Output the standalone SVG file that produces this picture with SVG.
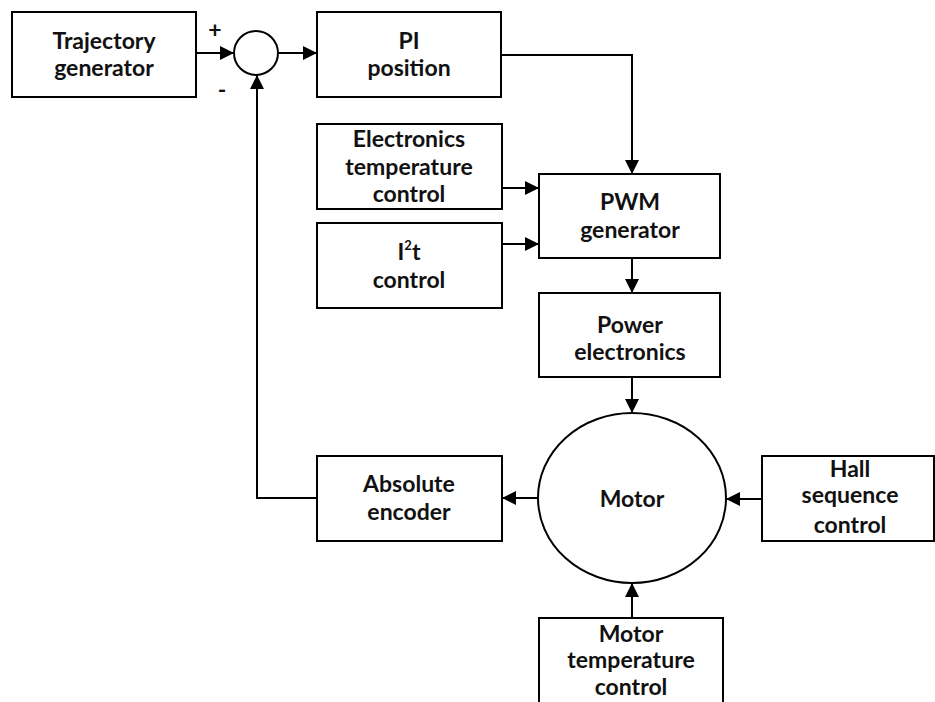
<svg xmlns="http://www.w3.org/2000/svg" width="935" height="702" viewBox="0 0 935 702">
<style>
.box{fill:#fff;stroke:#000;stroke-width:2}
.t{font-family:Lato,"Open Sans","Liberation Sans",sans-serif;font-weight:700;font-size:23px;text-anchor:middle;fill:#111}
.c{fill:none;stroke:#000;stroke-width:2}
</style>
<defs>
<marker id="ah" viewBox="0 0 14 14" refX="14" refY="7" markerWidth="14" markerHeight="14" markerUnits="userSpaceOnUse" orient="auto">
<path d="M0,0 L14,7 L0,14 Z" fill="#000"/>
</marker>
</defs>
<g id="connectors">
<line class="c" x1="196" y1="53" x2="234" y2="53" marker-end="url(#ah)"/>
<line class="c" x1="278" y1="53" x2="317" y2="53" marker-end="url(#ah)"/>
<polyline class="c" points="501,55 632,55 632,174" marker-end="url(#ah)"/>
<line class="c" x1="502" y1="188" x2="539" y2="188" marker-end="url(#ah)"/>
<line class="c" x1="502" y1="244" x2="539" y2="244" marker-end="url(#ah)"/>
<line class="c" x1="632" y1="258" x2="632" y2="293" marker-end="url(#ah)"/>
<line class="c" x1="632" y1="377" x2="632" y2="413" marker-end="url(#ah)"/>
<line class="c" x1="538" y1="498" x2="502" y2="498" marker-end="url(#ah)"/>
<line class="c" x1="762" y1="499" x2="726" y2="499" marker-end="url(#ah)"/>
<line class="c" x1="632" y1="618" x2="632" y2="583" marker-end="url(#ah)"/>
<polyline class="c" points="317,498 257,498 257,75" marker-end="url(#ah)"/>
</g>
<g id="sum">
<circle cx="256" cy="53" r="22" class="box"/>
<text x="215" y="38" class="t" font-size="20">+</text>
<text x="222" y="98" class="t" font-size="20">-</text>
</g>
<g id="trajectory">
<rect x="12" y="12" width="184" height="85" class="box"/>
<text x="104" y="49" class="t">Trajectory</text>
<text x="104" y="76" class="t">generator</text>
</g>
<g id="pi">
<rect x="317" y="12" width="184" height="85" class="box"/>
<text x="409" y="49" class="t">PI</text>
<text x="409" y="76" class="t">position</text>
</g>
<g id="etc">
<rect x="317" y="124" width="185" height="85" class="box"/>
<text x="409" y="147" class="t">Electronics</text>
<text x="409" y="175" class="t">temperature</text>
<text x="409" y="202" class="t">control</text>
</g>
<g id="i2t">
<rect x="317" y="223" width="185" height="85" class="box"/>
<text x="409" y="260" class="t">I<tspan font-size="13" dy="-10">2</tspan><tspan dy="10">t</tspan></text>
<text x="409" y="288" class="t">control</text>
</g>
<g id="pwm">
<rect x="539" y="174" width="181" height="84" class="box"/>
<text x="630" y="210" class="t">PWM</text>
<text x="630" y="238" class="t">generator</text>
</g>
<g id="power">
<rect x="539" y="293" width="181" height="84" class="box"/>
<text x="630" y="333" class="t">Power</text>
<text x="630" y="360" class="t">electronics</text>
</g>
<g id="motor">
<ellipse cx="632" cy="498" rx="94" ry="85" class="box"/>
<text x="632" y="507" class="t">Motor</text>
</g>
<g id="encoder">
<rect x="317" y="456" width="185" height="85" class="box"/>
<text x="409" y="492" class="t">Absolute</text>
<text x="409" y="520" class="t">encoder</text>
</g>
<g id="hall">
<rect x="762" y="456" width="172" height="85" class="box"/>
<text x="850" y="477" class="t">Hall</text>
<text x="850" y="503" class="t">sequence</text>
<text x="850" y="533" class="t">control</text>
</g>
<g id="mtc">
<rect x="539" y="618" width="184" height="90" class="box"/>
<text x="631" y="642" class="t">Motor</text>
<text x="631" y="668" class="t">temperature</text>
<text x="631" y="695" class="t">control</text>
</g>
</svg>
